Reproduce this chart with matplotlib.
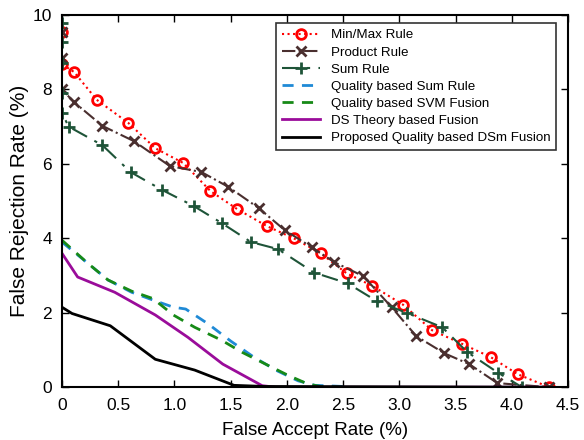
import matplotlib
matplotlib.use('Agg')
import matplotlib.pyplot as plt

plt.rcParams['font.family'] = ['Liberation Sans', 'DejaVu Sans']

# Min/Max Rule
minmax_far = [0, 0, 0.107, 0.31, 0.59, 0.83, 1.08, 1.32, 1.56, 1.82, 2.06, 2.30, 2.53, 2.76, 3.03, 3.29, 3.56, 3.81, 4.05, 4.33]
minmax_frr = [9.55, 8.68, 8.47, 7.72, 7.10, 6.42, 6.02, 5.27, 4.78, 4.33, 4.00, 3.60, 3.06, 2.72, 2.22, 1.53, 1.16, 0.81, 0.35, 0]

# Product Rule
prod_far = [0, 0, 0, 0.107, 0.36, 0.64, 0.96, 1.24, 1.48, 1.75, 1.98, 2.22, 2.42, 2.68, 2.93, 3.15, 3.40, 3.62, 3.87, 4.33]
prod_frr = [9.55, 8.84, 8.0, 7.66, 7.02, 6.61, 5.94, 5.78, 5.38, 4.81, 4.22, 3.76, 3.36, 2.98, 2.15, 1.37, 0.91, 0.62, 0.11, 0]

# Sum Rule
sum_far = [0, 0, 0, 0, 0, 0.06, 0.36, 0.61, 0.89, 1.17, 1.42, 1.68, 1.92, 2.24, 2.54, 2.80, 3.07, 3.38, 3.60, 3.88, 4.09]
sum_frr = [9.78, 9.27, 8.7, 7.9, 7.37, 7.0, 6.5, 5.78, 5.3, 4.87, 4.41, 3.90, 3.71, 3.08, 2.79, 2.31, 1.99, 1.61, 0.95, 0.38, 0]

# Quality based Sum Rule
qsum_far = [0, 0.23, 0.41, 0.62, 0.81, 0.99, 1.10, 1.30, 1.50, 1.70, 1.90, 2.10, 2.25, 2.50]
qsum_frr = [3.90, 3.33, 2.88, 2.55, 2.34, 2.15, 2.10, 1.70, 1.24, 0.82, 0.46, 0.17, 0.05, 0.02]

# Quality based SVM Fusion
qsvm_far = [0, 0.23, 0.41, 0.62, 0.81, 0.99, 1.18, 1.42, 1.60, 1.83, 2.01, 2.19, 2.30, 2.50]
qsvm_frr = [3.95, 3.33, 2.88, 2.58, 2.38, 1.94, 1.61, 1.26, 0.94, 0.59, 0.32, 0.08, 0.02, 0.0]

# DS Theory based Fusion
ds_far = [0, 0.14, 0.47, 0.83, 1.12, 1.43, 1.78, 1.90, 4.30]
ds_frr = [3.60, 2.96, 2.55, 1.94, 1.34, 0.62, 0.04, 0, 0]

# Proposed Quality based DSm Fusion
dsm_far = [0, 0.09, 0.43, 0.83, 1.18, 1.53, 1.80, 4.30]
dsm_frr = [2.15, 1.98, 1.65, 0.75, 0.46, 0.05, 0.02, 0]

fig = plt.figure(figsize=(5.84, 4.4), dpi=100)
ax = fig.add_axes([0.106, 0.12, 0.867, 0.846])

ax.plot(minmax_far, minmax_frr, color='red', linestyle=':', linewidth=1.5,
        marker='o', markersize=7, markerfacecolor='none', markeredgewidth=2,
        label='Min/Max Rule')
ax.plot(prod_far, prod_frr, color='#4a2f2f', linestyle='-.', linewidth=1.5,
        marker='x', markersize=6.5, markeredgewidth=2, label='Product Rule')
ax.plot(sum_far, sum_frr, color='#1e5438', linestyle=(0, (8, 4, 1.5, 4)), linewidth=1.5,
        marker='+', markersize=9, markeredgewidth=2, label='Sum Rule')
ax.plot(qsum_far, qsum_frr, color='#1f8ad6', linestyle=(0, (4, 3)), linewidth=2,
        label='Quality based Sum Rule')
ax.plot(qsvm_far, qsvm_frr, color='#178a17', linestyle=(0, (4, 3)), linewidth=2,
        label='Quality based SVM Fusion')
ax.plot(ds_far, ds_frr, color='#9a0c9a', linewidth=2, label='DS Theory based Fusion')
ax.plot(dsm_far, dsm_frr, color='black', linewidth=2,
        label='Proposed Quality based DSm Fusion')

ax.set_xlim(0, 4.5)
ax.set_ylim(0, 10)
ax.set_xticks([0, 0.5, 1.0, 1.5, 2.0, 2.5, 3.0, 3.5, 4.0, 4.5])
ax.set_xticklabels(['0', '0.5', '1.0', '1.5', '2.0', '2.5', '3.0', '3.5', '4.0', '4.5'])
ax.set_yticks([0, 2, 4, 6, 8, 10])
ax.tick_params(direction='in', top=True, right=True, labelsize=12.5, length=5, width=1)
ax.tick_params(axis='x', pad=8)
ax.tick_params(axis='y', pad=7)
for s in ax.spines.values():
    s.set_linewidth(1.5)

ax.set_xlabel('False Accept Rate (%)', fontsize=13.5, labelpad=6)
ax.set_ylabel('False Rejection Rate (%)', fontsize=15, labelpad=3)

leg = ax.legend(loc='upper right', bbox_to_anchor=(0.9765, 0.978), fontsize=9.6,
                frameon=True, fancybox=False, edgecolor='black', handlelength=2.85,
                borderpad=0.45, labelspacing=0.36, handletextpad=0.8, borderaxespad=0)
leg.get_frame().set_linewidth(1.2)

fig.savefig('out.png', dpi=100)
